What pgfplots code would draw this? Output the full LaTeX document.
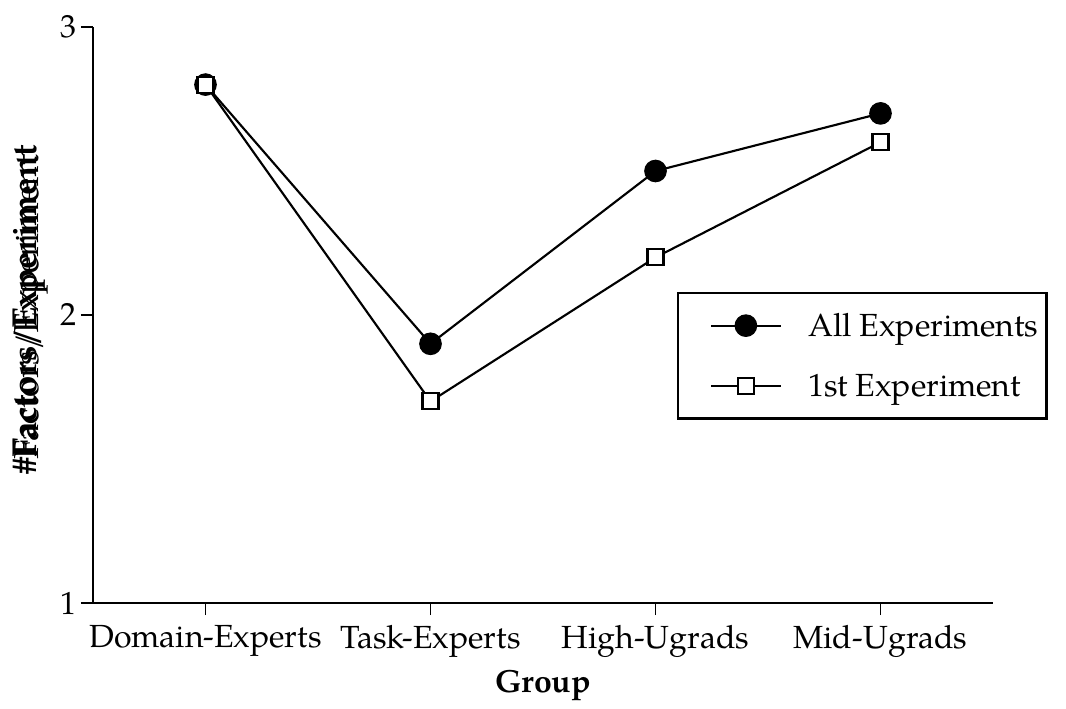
\documentclass[border=0pt]{standalone}
\usepackage{pgfplots}
\pgfplotsset{compat=1.18}
\usepackage{fontspec}
\setmainfont{TeX Gyre Pagella}
\begin{document}
\begin{tikzpicture}[x=0.75pt,y=0.75pt]
\begin{axis}[
  scale only axis,
  width=675pt, height=432pt,
  xmin=-0.5, xmax=3.5, ymin=1, ymax=3,
  axis x line*=bottom, axis y line*=left,
  axis line style={line width=1.6pt, -},
  xtick={0,1,2,3},
  xticklabels={Domain-Experts,Task-Experts,High-Ugrads,Mid-Ugrads},
  ytick={1,2,3},
  tick align=outside,
  major tick length=9pt,
  tick style={line width=1.3pt, black},
  ticklabel style={font=\fontsize{24}{26}\selectfont},
  xticklabel style={yshift=-4pt},
  /pgf/number format/assume math mode=true,
  xlabel={\textbf{Group}},
  xlabel style={font=\fontsize{24}{26}\selectfont, yshift=-3pt},
  legend style={at={(0.649,0.54)}, anchor=north west, draw=black, line width=1.6pt,
    font=\fontsize{24}{26}\selectfont, inner xsep=3pt, inner ysep=12pt, row sep=21pt,
    nodes={inner sep=3pt},
    /tikz/every odd column/.style={column sep=17pt},
    legend cell align=left},
  legend image code/.code={\path (-21pt,0pt); \draw[#1, line width=1.6pt] (0pt,0pt) -- (52pt,0pt) plot coordinates {(26pt,0pt)};},
]
\addplot[black, line width=1.6pt, mark=*, mark size=8pt, mark options={fill=black, line width=1pt}]
  coordinates {(0,2.8) (1,1.9) (2,2.5) (3,2.7)};
\addlegendentry{All Experiments}
\addplot[black, line width=1.6pt, mark=square*, mark size=6pt, mark options={fill=white, line width=1.6pt}]
  coordinates {(0,2.8) (1,1.7) (2,2.2) (3,2.6)};
\addlegendentry{1st Experiment}
\end{axis}
\node[rotate=90, font=\fontsize{26}{28}\selectfont\bfseries] at (-64,293) {\#Factors/Experiment};
\node[rotate=90, font=\fontsize{26}{28}\selectfont] at (-62,296) {Factors/Experiment};
\pgfresetboundingbox
\path (-69.75pt,-79.5pt) rectangle (729.75pt,452.25pt);
\end{tikzpicture}
\end{document}
